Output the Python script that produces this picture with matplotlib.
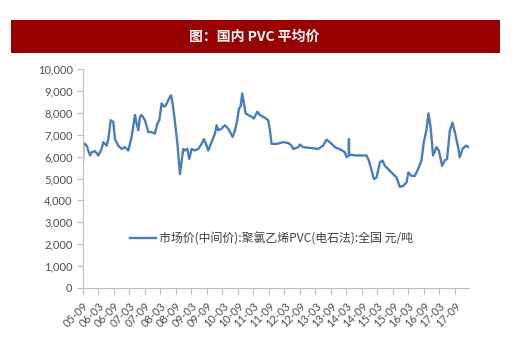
import numpy as np
import matplotlib
matplotlib.use("Agg")
import matplotlib.pyplot as plt
from matplotlib.ticker import FuncFormatter

plt.rcParams['font.family'] = ['Lato', 'Noto Sans CJK SC', 'DejaVu Sans']

# months since 2005-09
month_idx = [0.0, 0.13, 0.77, 1.42, 2.71, 3.36, 4.65, 5.94, 7.23, 7.87, 9.16, 9.81,
             10.71, 11.74, 12.39, 13.68, 14.97, 16.26, 17.55, 18.84, 20.13, 20.78,
             21.42, 22.07, 22.71, 24.0, 25.29, 26.58, 27.87, 28.78, 29.55, 30.46,
             31.36, 32.13, 33.04, 34.07, 34.71, 35.62, 36.52, 37.55, 38.2, 38.84,
             39.49, 40.39, 41.16, 42.07, 43.36, 44.65, 45.94, 46.84, 47.88, 48.52,
             49.81, 51.1, 51.75, 52.39, 53.68, 54.97, 56.26, 57.94, 58.85, 59.75,
             60.39, 61.04, 61.68, 62.33, 62.98, 64.0, 65.3, 66.2, 67.49, 68.52,
             69.81, 71.75, 72.4, 73.04, 75.0, 77.56, 79.5, 80.8, 81.4, 83.4, 84.0,
             85.3, 89.2, 91.1, 93.0, 94.3, 95.6, 97.6, 100.1, 101.4, 102.1, 102.9,
             103.0, 103.1, 103.4, 105.9, 109.8, 110.7, 111.8, 112.7, 113.7, 115.0,
             116.0, 116.9, 118.2, 120.1, 121.4, 122.7, 124.0, 125.3, 126.0, 127.2,
             128.5, 129.8, 131.1, 132.0, 133.0, 133.8, 134.6, 135.6, 136.9, 137.8,
             139.1, 140.1, 141.0, 142.1, 143.1, 144.0, 145.3, 145.9, 147.0, 148.3,
             149.4]
price = [5750, 6600, 6580, 6500, 6050, 6200, 6250, 6050, 6350, 6660, 6500, 6800,
         7660, 7580, 6800, 6500, 6350, 6430, 6280, 6900, 7900, 7500,
         7200, 7820, 7900, 7660, 7120, 7120, 7050, 7500, 7660, 8430,
         8280, 8350, 8580, 8800, 8430, 7580, 6660, 5200, 5800, 6350,
         6280, 6350, 5890, 6350, 6280, 6350, 6580, 6800, 6500, 6280,
         6660, 7050, 7430, 7200, 7280, 7430, 7280, 6900, 7200, 7660,
         8200, 8280, 8890, 8430, 7970, 7900, 7820, 7740, 8050, 7900,
         7820, 7660, 7200, 6580, 6580, 6660, 6620, 6500, 6350, 6430, 6550,
         6430, 6380, 6350, 6500, 6770, 6660, 6430, 6300, 6200, 5970, 6050,
         6800, 6050, 6090, 6050, 6050, 5820, 5350, 4970, 5050, 5740,
         5820, 5580, 5430, 5200, 5050, 4620, 4660, 4820, 5280, 5120,
         5120, 5430, 5820, 6660, 7200, 7970, 7350, 6050, 6430, 6280,
         5580, 5820, 5890, 7200, 7550, 7120, 6430, 5970, 6350, 6500,
         6430]

tick_labels = ['05-09', '06-03', '06-09', '07-03', '07-09', '08-03', '08-09',
               '09-03', '09-09', '10-03', '10-09', '11-03', '11-09', '12-03',
               '12-09', '13-03', '13-09', '14-03', '14-09', '15-03', '15-09',
               '16-03', '16-09', '17-03', '17-09']
tick_pos = np.arange(len(tick_labels)) * 6

fig = plt.figure(figsize=(5.2, 3.49), dpi=100)

# red title bar
fig.patches.append(plt.Rectangle((10.5 / 520, 1 - 53 / 349), 489 / 520, 33 / 349,
                                 transform=fig.transFigure, facecolor='#990000',
                                 edgecolor='none'))
fig.text(254 / 520, 1 - 36.5 / 349, '图：国内 PVC 平均价', color='white', fontsize=10,
         fontweight='bold', ha='center', va='center',
         family=['Noto Sans CJK SC', 'DejaVu Sans'])

ax = fig.add_axes([83 / 520, 1 - 288 / 349, 386 / 520, 219 / 349])
ax.plot(month_idx, price, color='#4A7EBB', lw=1.7,
        label='市场价(中间价):聚氯乙烯PVC(电石法):全国 元/吨')

ax.set_xlim(0, 149.5)
ax.set_ylim(0, 10000)
ax.set_yticks(np.arange(0, 10001, 1000))
ax.yaxis.set_major_formatter(FuncFormatter(lambda v, p: f'{int(v):,}'))
ax.set_xticks(tick_pos)
ax.set_xticklabels(tick_labels, rotation=45, ha='right', rotation_mode='anchor')

for s in ['top', 'right']:
    ax.spines[s].set_visible(False)
for s in ['left', 'bottom']:
    ax.spines[s].set_color('#BFBFBF')
    ax.spines[s].set_linewidth(0.8)
ax.tick_params(axis='both', colors='#BFBFBF', labelcolor='#505050', labelsize=8,
               length=4, width=0.8)
ax.tick_params(axis='x', labelsize=8, pad=5)

leg = ax.legend(loc='center', bbox_to_anchor=(0.488, 0.224), frameon=False,
                handlelength=2.2, handletextpad=0.2,
                prop={'family': ['Noto Sans CJK SC', 'DejaVu Sans'], 'size': 8.6})
for t in leg.get_texts():
    t.set_color('#404040')

fig.savefig('out.png', dpi=100, facecolor='white')
